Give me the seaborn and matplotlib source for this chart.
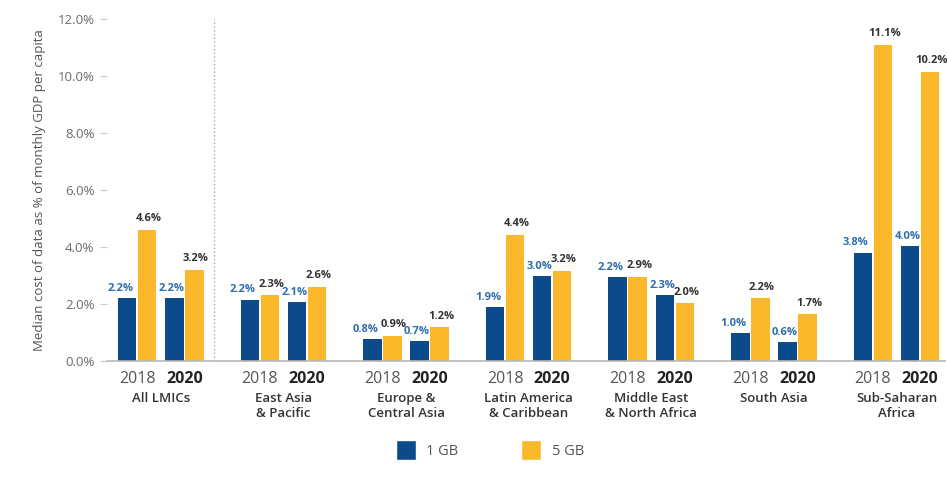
import pandas as pd
import numpy as np
import matplotlib.pyplot as plt
import matplotlib.lines as mlines
import matplotlib.transforms as mtransforms
from matplotlib.ticker import FuncFormatter
import seaborn as sns

regions = ['All LMICs', 'East Asia\n& Pacific', 'Europe &\nCentral Asia', 'Latin America\n& Caribbean',
           'Middle East\n& North Africa', 'South Asia', 'Sub-Saharan\nAfrica']
years = ['2018', '2020']

# bar heights, in region order, 2018 then 2020
one_gb = [2.2, 2.2, 2.15, 2.05, 0.75, 0.68, 1.9, 2.98, 2.95, 2.3, 0.98, 0.66, 3.8, 4.02]
five_gb = [4.6, 3.2, 2.3, 2.6, 0.88, 1.18, 4.42, 3.15, 2.95, 2.02, 2.2, 1.64, 11.08, 10.14]
# printed labels
one_gb_labels = ['2.2%', '2.2%', '2.2%', '2.1%', '0.8%', '0.7%', '1.9%', '3.0%', '2.2%', '2.3%', '1.0%', '0.6%', '3.8%', '4.0%']
five_gb_labels = ['4.6%', '3.2%', '2.3%', '2.6%', '0.9%', '1.2%', '4.4%', '3.2%', '2.9%', '2.0%', '2.2%', '1.7%', '11.1%', '10.2%']

BLUE = '#0b4a8b'
YELLOW = '#fbb82a'
GREY = '#6b6b6b'
DARK = '#333333'
GROUP_STEP = 2.6

plt.rcParams['font.family'] = ['Open Sans', 'DejaVu Sans']

rows = []
for i, region in enumerate(regions):
    for j, year in enumerate(years):
        k = i * 2 + j
        pos = i * GROUP_STEP + j
        rows.append({'pos': pos, 'region': region, 'year': year, 'size': '1 GB', 'value': one_gb[k], 'label': one_gb_labels[k]})
        rows.append({'pos': pos, 'region': region, 'year': year, 'size': '5 GB', 'value': five_gb[k], 'label': five_gb_labels[k]})
df = pd.DataFrame(rows)

dpi = 100
fig = plt.figure(figsize=(947 / dpi, 491 / dpi), dpi=dpi)
fig.patch.set_facecolor('white')
ax = fig.add_axes([0.113, 0.265, 0.885, 0.697])

sns.barplot(data=df, x='pos', y='value', hue='size', hue_order=['1 GB', '5 GB'],
            palette=[BLUE, YELLOW], native_scale=True, width=0.85, gap=0.08,
            saturation=1, legend=False, ax=ax)

# value labels: 1 GB labels sit a little left of their bar, like the original
for container, size in zip(ax.containers, ['1 GB', '5 GB']):
    sub = df[df['size'] == size].sort_values('pos')
    color = '#2f6eae' if size == '1 GB' else DARK
    for bar, lab, year in zip(container, sub['label'], sub['year']):
        if size == '1 GB':
            offset = (-5, 3) if year == '2018' else (-2, 3)
        else:
            offset = (1, 4)
        ax.annotate(lab, (bar.get_x() + bar.get_width() / 2, bar.get_height()),
                    xytext=offset, textcoords='offset points', ha='center', va='bottom',
                    fontsize=8, fontweight='bold', color=color)

ax.set_ylim(0, 12)
ax.set_xlim(-0.64, (len(regions) - 1) * GROUP_STEP + 1.53)
ax.yaxis.set_major_formatter(FuncFormatter(lambda v, p: f'{v:.1f}%'))
ax.set_yticks(np.arange(0, 12.1, 2))
ax.tick_params(axis='y', colors='#c8c8c8', labelcolor=GREY, labelsize=9.5, length=5, width=0.8, pad=4)

# year ticks
xt = sorted(df['pos'].unique())
ax.set_xticks(xt)
ax.set_xticklabels([y for _ in regions for y in years])
ax.tick_params(axis='x', length=0, labelsize=11.5, pad=7)
for lbl in ax.get_xticklabels():
    if lbl.get_text() == '2020':
        lbl.set_fontweight('bold')
        lbl.set_color('#222222')
    else:
        lbl.set_color('#555555')

# region names
trans = mtransforms.blended_transform_factory(ax.transData, ax.transAxes)
for i, region in enumerate(regions):
    ax.text(i * GROUP_STEP + 0.5, -0.09, region, transform=trans, ha='center', va='top',
            fontsize=9.5, fontweight='semibold', color=DARK, linespacing=1.2)

# dotted separator after All LMICs
ax.axvline(1.62, ymin=0, ymax=1, color='#999999', linestyle=(0, (1, 2)), linewidth=0.9)

for side in ['top', 'right', 'left']:
    ax.spines[side].set_visible(False)
ax.spines['bottom'].set(color='#b8b8b8', linewidth=1.2)
ax.set_xlabel('')
ax.set_ylabel('Median cost of data as % of monthly GDP per capita', fontsize=9.5, color='#555555', labelpad=8)

handles = [
    mlines.Line2D([], [], marker='s', markersize=14, linestyle='None', color='w', markerfacecolor=BLUE, label='1 GB'),
    mlines.Line2D([], [], marker='s', markersize=14, linestyle='None', color='w', markerfacecolor=YELLOW, label='5 GB'),
]
fig.legend(handles=handles, loc='center', bbox_to_anchor=(0.515, 0.08), ncol=2, frameon=False,
           prop={'size': 10.5}, labelcolor='#555555', columnspacing=4, handletextpad=0.4)

plt.savefig('out.png', dpi=dpi)
